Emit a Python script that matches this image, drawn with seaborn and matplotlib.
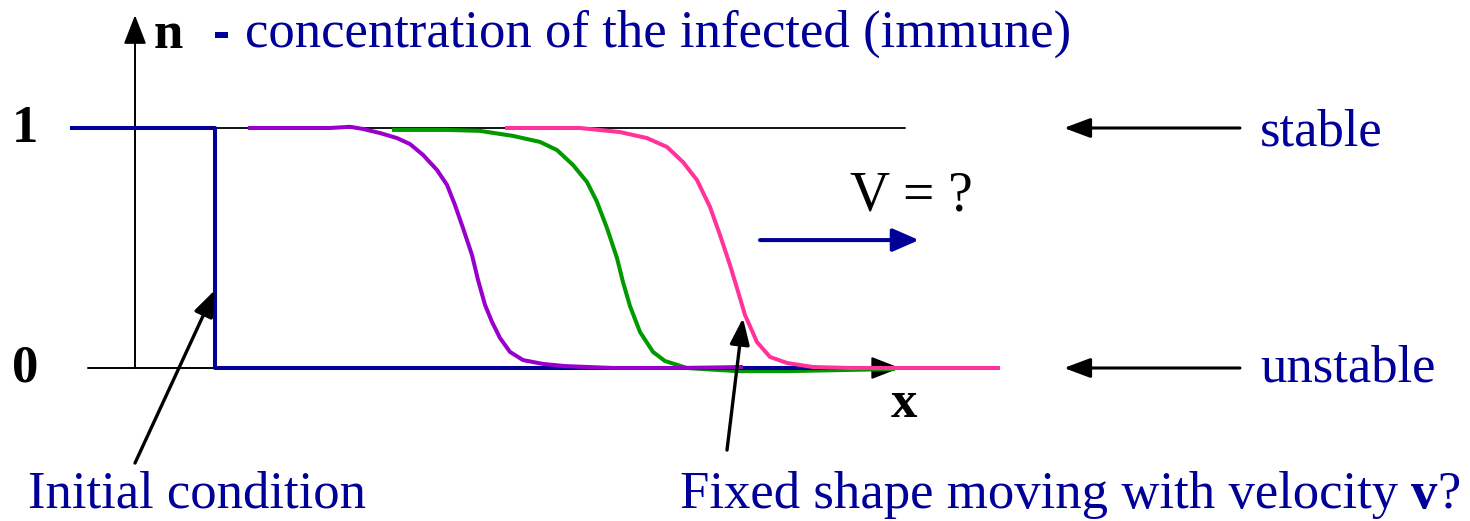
import matplotlib
matplotlib.use("Agg")
import matplotlib.pyplot as plt
import seaborn as sns
import pandas as pd

# ---- data (x: position, n: concentration) ----
step_x = [-0.65, 0.80, 0.80, 7.55]
step_n = [1.0, 1.0, 0.0, 0.0]

purple_x = [1.13, 1.95, 2.15, 2.28, 2.45, 2.62, 2.75, 2.88, 3.02, 3.12, 3.20, 3.28, 3.37, 3.43,
            3.50, 3.57, 3.65, 3.75, 3.88, 4.08, 4.30, 4.78, 5.45, 6.08]
purple_n = [1.0, 1.0, 1.005, 0.996, 0.979, 0.958, 0.933, 0.888, 0.825, 0.763, 0.679, 0.583, 0.471, 0.367,
            0.263, 0.192, 0.125, 0.067, 0.033, 0.017, 0.008, 0.0, 0.0, 0.004]

green_x = [2.57, 3.12, 3.45, 3.78, 4.05, 4.22, 4.38, 4.52, 4.62, 4.72, 4.82, 4.88, 4.95, 5.05,
           5.18, 5.30, 5.52, 6.02, 6.52, 7.15, 7.60]
green_n = [0.992, 0.992, 0.988, 0.967, 0.942, 0.908, 0.846, 0.775, 0.692, 0.583, 0.458, 0.358, 0.258, 0.15,
           0.067, 0.029, 0.0, -0.013, -0.013, -0.008, -0.004]

pink_x = [3.70, 4.45, 4.85, 5.12, 5.32, 5.48, 5.62, 5.75, 5.85, 5.95, 6.02, 6.10, 6.22, 6.35,
          6.52, 6.78, 7.15, 8.65]
pink_n = [1.0, 1.0, 0.983, 0.958, 0.921, 0.858, 0.783, 0.671, 0.554, 0.429, 0.333, 0.221, 0.108, 0.046,
          0.021, 0.004, 0.0, 0.0]

title_text = "concentration of the infected (immune)"
stable_labels = ["stable", "unstable"]
stable_levels = [1.0, 0.0]
stable_baselines = [0.929, -0.058]

BLUE = "#000099"
sns.set_theme(style="white")
plt.rcParams["font.family"] = ["Liberation Serif", "DejaVu Serif"]

fig = plt.figure(figsize=(14.7, 5.21), dpi=100)
ax = fig.add_axes([0, 0, 1, 1])

# axes lines
ax.plot([0.80, 7.70], [1, 1], color="black", lw=1.3, zorder=1)
ax.annotate("", xy=(0, 1.47), xytext=(0, 0),
            arrowprops=dict(arrowstyle="-|>,head_length=0.9,head_width=0.35", lw=1.4,
                            color="black", shrinkA=0, shrinkB=0, mutation_scale=20), zorder=1)
ax.annotate("", xy=(7.65, 0), xytext=(-0.47, 0),
            arrowprops=dict(arrowstyle="-|>,head_length=0.9,head_width=0.35", lw=1.4,
                            color="black", shrinkA=0, shrinkB=0, mutation_scale=20), zorder=1)

def draw(xs, ns, color, z):
    df = pd.DataFrame({"x": xs, "n": ns})
    sns.lineplot(data=df, x="x", y="n", sort=False, estimator=None, color=color,
                 lw=2.9, ax=ax, zorder=z, solid_capstyle="butt", solid_joinstyle="round")

draw(green_x, green_n, "#009900", 2)
draw(step_x, step_n, BLUE, 3)
draw(purple_x, purple_n, "#9900CC", 4)
draw(pink_x, pink_n, "#FF3399", 5)
ax.set_xlim(-1.35, 13.35)
ax.set_ylim(-153 / 240, 368 / 240)
ax.axis("off")

# texts
ax.text(0.19, 1.333, "n", fontsize=38, fontweight="bold", color="black", ha="left", va="baseline")
ax.text(0.78, 1.333, "-", fontsize=37, fontweight="bold", color=BLUE, ha="left", va="baseline",
        family="Liberation Sans")
ax.text(1.10, 1.337, title_text, fontsize=38, color=BLUE, ha="left", va="baseline")
ax.text(-1.10, 0.942, "1", fontsize=38, fontweight="bold", color="black", ha="center", va="baseline")
ax.text(-1.10, -0.058, "0", fontsize=38, fontweight="bold", color="black", ha="center", va="baseline")
ax.text(7.69, -0.204, "x", fontsize=38, fontweight="bold", color="black", ha="center", va="baseline")
ax.text(7.15, 0.658, "V = ?", fontsize=40, color="black", ha="left", va="baseline")

# velocity arrow
ax.annotate("", xy=(7.84, 0.533), xytext=(6.25, 0.533),
            arrowprops=dict(arrowstyle="-|>,head_length=0.8,head_width=0.35", lw=2.9,
                            color=BLUE, shrinkA=0, shrinkB=0, mutation_scale=20))

# stable / unstable
for lab, lev, base in zip(stable_labels, stable_levels, stable_baselines):
    ax.annotate("", xy=(9.29, lev), xytext=(11.05, lev),
                arrowprops=dict(arrowstyle="-|>,head_length=0.8,head_width=0.3", lw=2.2,
                                color="black", shrinkA=0, shrinkB=0, mutation_scale=20))
    ax.text(11.25, base, lab, fontsize=38, color=BLUE, ha="left", va="baseline")

# annotations at bottom
ax.annotate("", xy=(0.80, 0.325), xytext=(0.0, -0.396),
            arrowprops=dict(arrowstyle="-|>,head_length=0.8,head_width=0.3", lw=2.4,
                            color="black", shrinkA=0, shrinkB=0, mutation_scale=20))
ax.text(-1.07, -0.583, "Initial condition", fontsize=38, color=BLUE, ha="left", va="baseline")

ax.annotate("", xy=(6.08, 0.208), xytext=(5.92, -0.342),
            arrowprops=dict(arrowstyle="-|>,head_length=0.8,head_width=0.3", lw=2.4,
                            color="black", shrinkA=0, shrinkB=0, mutation_scale=20), zorder=6)
t = ax.text(5.45, -0.583, "Fixed shape moving with velocity ", fontsize=38, color=BLUE,
            ha="left", va="baseline")
fig.canvas.draw()
bb = t.get_window_extent().transformed(ax.transData.inverted())
t2 = ax.text(bb.x1, -0.583, "v", fontsize=38, fontweight="bold", color=BLUE, ha="left", va="baseline")
fig.canvas.draw()
bb2 = t2.get_window_extent().transformed(ax.transData.inverted())
ax.text(bb2.x1, -0.583, "?", fontsize=38, color=BLUE, ha="left", va="baseline")

fig.savefig("out.png", dpi=100)
